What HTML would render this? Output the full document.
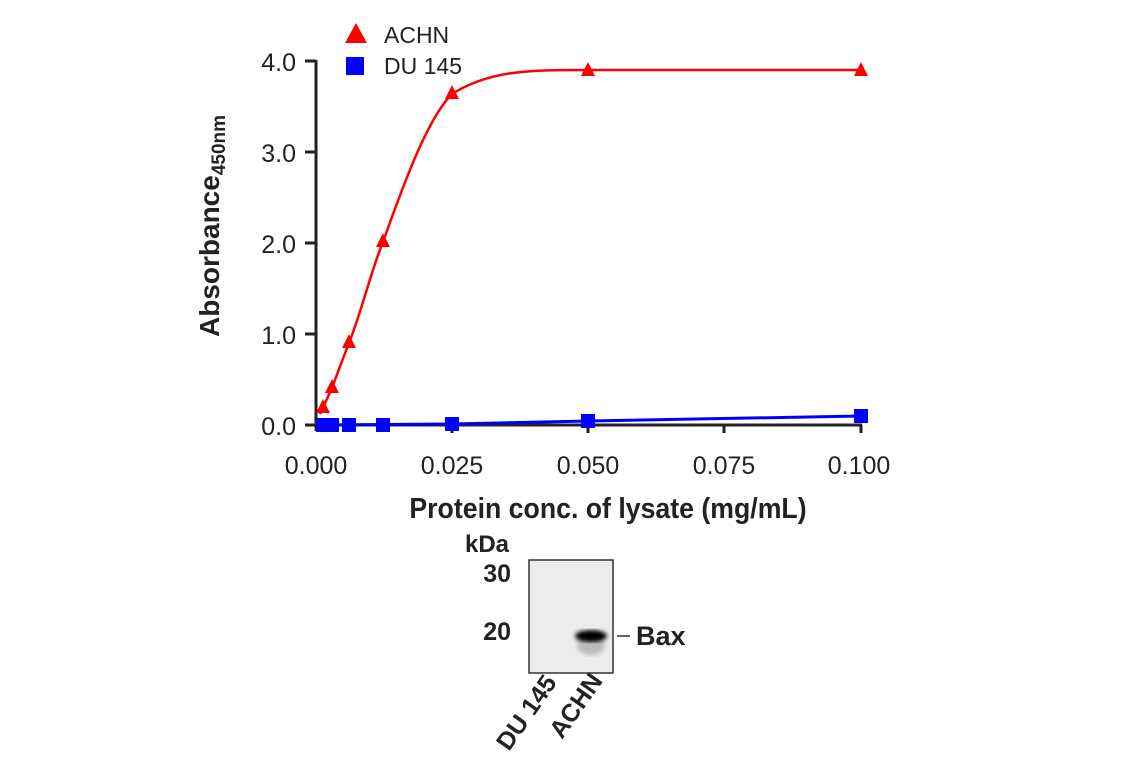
<!DOCTYPE html>
<html><head><meta charset="utf-8"><style>
body{margin:0;background:#fff;}
svg text{font-family:"Liberation Sans",sans-serif;fill:#222;}
</style></head><body>
<svg width="1141" height="768" viewBox="0 0 1141 768" xmlns="http://www.w3.org/2000/svg">
<defs>
<filter id="blur"><feGaussianBlur stdDeviation="2"/></filter>
</defs>
<g stroke="#222" stroke-width="3" fill="none">
<path d="M316,60 L316,431"/>
<path d="M316,425 L862,425"/>
<path d="M305,61 L316,61 M305,152 L316,152 M305,243 L316,243 M305,334 L316,334 M305,425 L316,425"/>
<path d="M452,425 L452,433 M588,425 L588,433 M724,425 L724,433 M861,425 L861,433"/>
</g>
<g font-size="25" text-anchor="end">
<text x="296" y="71">4.0</text>
<text x="296" y="162">3.0</text>
<text x="296" y="253">2.0</text>
<text x="296" y="344">1.0</text>
<text x="296" y="435">0.0</text>
</g>
<g font-size="25" text-anchor="middle">
<text x="316" y="474">0.000</text>
<text x="452" y="474">0.025</text>
<text x="588" y="474">0.050</text>
<text x="724" y="474">0.075</text>
<text x="859" y="474">0.100</text>
</g>
<text x="608" y="518" font-size="29" font-weight="bold" text-anchor="middle" transform="translate(608,0) scale(0.92,1) translate(-608,0)">Protein conc. of lysate (mg/mL)</text>
<text transform="translate(219,337) rotate(-90)" font-size="28" font-weight="bold">Absorbance<tspan font-size="19" dy="6">450nm</tspan></text>
<polygon points="356,23 367,43 345,43" fill="#f00"/>
<text x="384" y="43" font-size="23">ACHN</text>
<rect x="346" y="57" width="18" height="18" fill="#00f"/>
<text x="384" y="74" font-size="23">DU 145</text>
<path d="M320,414 L332,388 Q340,366 349,343 C362,310 372,268 383,242 C405,180 428,118 452,94 C490,70 530,70 588,70 L861,70" stroke="#f00" stroke-width="2.5" fill="none"/>
<g fill="#f00">
<polygon points="323,399 330,413 316,413"/>
<polygon points="332,379 339,393 325,393"/>
<polygon points="349,334 356,348 342,348"/>
<polygon points="383,233 390,247 376,247"/>
<polygon points="452,85 459,99 445,99"/>
<polygon points="588,62 595,76 581,76"/>
<polygon points="861,62 868,76 854,76"/>
</g>
<path d="M318,425 L452,424 L588,421 L861,416" stroke="#00f" stroke-width="3" fill="none"/>
<g fill="#00f">
<rect x="316" y="418" width="14" height="14"/>
<rect x="325" y="418" width="14" height="14"/>
<rect x="342" y="418" width="14" height="14"/>
<rect x="376" y="418" width="14" height="14"/>
<rect x="445" y="417" width="14" height="14"/>
<rect x="581" y="414" width="14" height="14"/>
<rect x="854" y="409" width="14" height="14"/>
</g>
<text x="465" y="552" font-size="24" font-weight="bold">kDa</text>
<text x="511" y="582" font-size="25" font-weight="bold" text-anchor="end">30</text>
<text x="511" y="640" font-size="25" font-weight="bold" text-anchor="end">20</text>
<rect x="529" y="560" width="84" height="113" fill="#ececec" stroke="#333" stroke-width="1.5"/>
<ellipse cx="591" cy="645" rx="14" ry="10" fill="#bbb" filter="url(#blur)"/>
<ellipse cx="591" cy="636" rx="16" ry="6" fill="#000" filter="url(#blur)"/>
<path d="M617,636 L630,636" stroke="#333" stroke-width="1.5"/>
<text x="636" y="645" font-size="27" font-weight="bold">Bax</text>
<text transform="translate(509,752) rotate(-55)" font-size="25" font-weight="bold">DU 145</text>
<text transform="translate(562,740) rotate(-55)" font-size="25" font-weight="bold">ACHN</text>
</svg>
</body></html>
